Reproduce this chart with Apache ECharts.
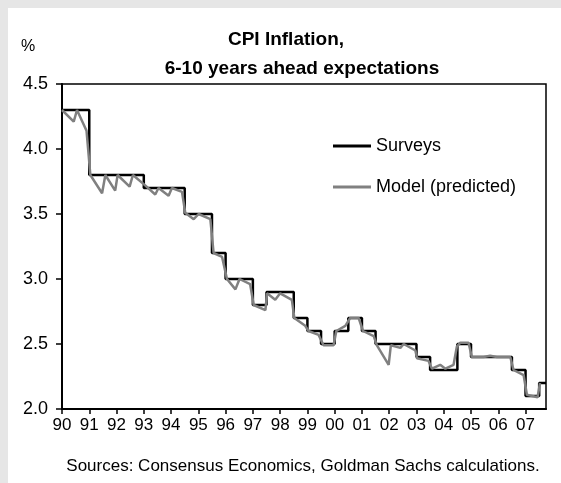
<!DOCTYPE html>
<html>
<head>
<meta charset="utf-8">
<script src="https://cdn.jsdelivr.net/npm/echarts@6/dist/echarts.min.js"></script>
<style>
  html, body { margin: 0; padding: 0; background: #e6e6e6; }
  #panel { position: absolute; left: 8px; top: 8px; width: 553px; height: 475px; background: #fff; }
  #main { position: absolute; left: 0; top: 0; width: 561px; height: 483px; }
</style>
</head>
<body>
<div id="panel"></div>
<div id="main"></div>
<script>
// survey values (semi-annual, held until next survey)
var surveyDates = [1990.0, 1990.5, 1991.0, 1991.5, 1992.0, 1992.5, 1993.0, 1993.5, 1994.0, 1994.5,
  1995.0, 1995.5, 1996.0, 1996.5, 1997.0, 1997.5, 1998.0, 1998.5, 1999.0, 1999.5,
  2000.0, 2000.5, 2001.0, 2001.5, 2002.0, 2002.5, 2003.0, 2003.5, 2004.0, 2004.5,
  2005.0, 2005.5, 2006.0, 2006.5, 2007.0, 2007.5, 2007.75]
var surveyValues = [4.3, 4.3, 3.8, 3.8, 3.8, 3.8, 3.7, 3.7, 3.7, 3.5,
  3.5, 3.2, 3.0, 3.0, 2.8, 2.9, 2.9, 2.7, 2.6, 2.5,
  2.6, 2.7, 2.6, 2.5, 2.5, 2.5, 2.4, 2.3, 2.3, 2.5,
  2.4, 2.4, 2.4, 2.3, 2.1, 2.2, 2.2]

// model (predicted)
var modelDates = [1990.0, 1990.43, 1990.55, 1990.9, 1991.04, 1991.47, 1991.59, 1991.95, 1992.04, 1992.48,
  1992.6, 1993.05, 1993.42, 1993.54, 1993.91, 1994.03, 1994.4, 1994.52, 1994.83, 1995.01,
  1995.44, 1995.56, 1995.87, 1996.05, 1996.36, 1996.51, 1996.9, 1997.03, 1997.46, 1997.52,
  1997.82, 1998.0, 1998.43, 1998.52, 1998.92, 1999.04, 1999.41, 1999.59, 1999.96, 2000.06,
  2000.39, 2000.57, 2000.88, 2001.04, 2001.43, 2001.55, 2001.98, 2002.06, 2002.41, 2002.53,
  2002.96, 2003.02, 2003.44, 2003.57, 2003.87, 2004.06, 2004.36, 2004.48, 2004.61, 2004.91,
  2005.03, 2005.46, 2005.7, 2005.95, 2006.44, 2006.56, 2006.93, 2007.05, 2007.44, 2007.53]
var modelValues = [4.3, 4.21, 4.3, 4.14, 3.8, 3.66, 3.8, 3.68, 3.8, 3.71,
  3.8, 3.72, 3.65, 3.7, 3.64, 3.7, 3.67, 3.51, 3.46, 3.5,
  3.46, 3.2, 3.17, 3.0, 2.92, 3.0, 2.96, 2.8, 2.76, 2.89,
  2.84, 2.89, 2.84, 2.7, 2.64, 2.6, 2.57, 2.49, 2.49, 2.6,
  2.64, 2.7, 2.7, 2.6, 2.56, 2.49, 2.34, 2.49, 2.47, 2.5,
  2.45, 2.39, 2.37, 2.31, 2.34, 2.31, 2.34, 2.48, 2.51, 2.51,
  2.4, 2.4, 2.41, 2.4, 2.4, 2.3, 2.26, 2.11, 2.09, 2.2]

var yTicks = [2.0, 2.5, 3.0, 3.5, 4.0, 4.5]

var font = 'Liberation Sans, Arial, sans-serif'
var chart = echarts.init(document.getElementById('main'))

function pairs (xs, ys) {
  return xs.map(function (x, i) { return [x, ys[i]] })
}

chart.setOption({
  animation: false,
  backgroundColor: 'transparent',
  textStyle: { fontFamily: font },
  grid: {
    left: 62,
    right: 15,
    top: 84,
    bottom: 74,
    show: true,
    borderColor: '#000',
    borderWidth: 1.5
  },
  legend: {
    data: ['Surveys', 'Model (predicted)'],
    orient: 'vertical',
    left: 328,
    top: 132,
    icon: 'rect',
    itemWidth: 38,
    itemHeight: 3,
    itemGap: 23,
    textStyle: { fontSize: 18, color: '#000', fontFamily: font }
  },
  xAxis: {
    type: 'value',
    min: 1990,
    max: 2007.75,
    interval: 1,
    splitLine: { show: false },
    axisLine: { lineStyle: { color: '#000', width: 2 } },
    axisTick: { length: 5, lineStyle: { color: '#000', width: 1.5 } },
    axisLabel: {
      color: '#000',
      fontSize: 17,
      margin: 8,
      showMaxLabel: false,
      formatter: function (v) {
        return Number.isInteger(v) ? String(v).slice(2) : ''
      }
    }
  },
  yAxis: {
    type: 'value',
    min: yTicks[0],
    max: yTicks[yTicks.length - 1],
    interval: 0.5,
    splitLine: { show: false },
    axisLine: { show: true, lineStyle: { color: '#000', width: 2 } },
    axisTick: { show: true, length: 6, lineStyle: { color: '#000', width: 1.5 } },
    axisLabel: {
      color: '#000',
      fontSize: 18,
      margin: 14,
      formatter: function (v) { return v.toFixed(1) }
    }
  },
  graphic: [
    { type: 'text', x: 286, y: 40, style: { text: 'CPI Inflation,', font: 'bold 19px ' + font, fill: '#000', textAlign: 'center', textVerticalAlign: 'middle' } },
    { type: 'text', x: 302, y: 69, style: { text: '6-10 years ahead expectations', font: 'bold 19px ' + font, fill: '#000', textAlign: 'center', textVerticalAlign: 'middle' } },
    { type: 'text', x: 28, y: 47, style: { text: '%', font: '16px ' + font, fill: '#000', textAlign: 'center', textVerticalAlign: 'middle' } },
    { type: 'text', x: 303, y: 466, style: { text: 'Sources: Consensus Economics, Goldman Sachs calculations.', font: '17px ' + font, fill: '#000', textAlign: 'center', textVerticalAlign: 'middle' } }
  ],
  series: [
    {
      name: 'Surveys',
      type: 'line',
      step: 'end',
      symbol: 'none',
      color: '#000',
      lineStyle: { color: '#000', width: 2.5 },
      data: pairs(surveyDates, surveyValues)
    },
    {
      name: 'Model (predicted)',
      type: 'line',
      symbol: 'none',
      color: '#808080',
      lineStyle: { color: '#808080', width: 2.5 },
      data: pairs(modelDates, modelValues)
    }
  ]
})
</script>
</body>
</html>
